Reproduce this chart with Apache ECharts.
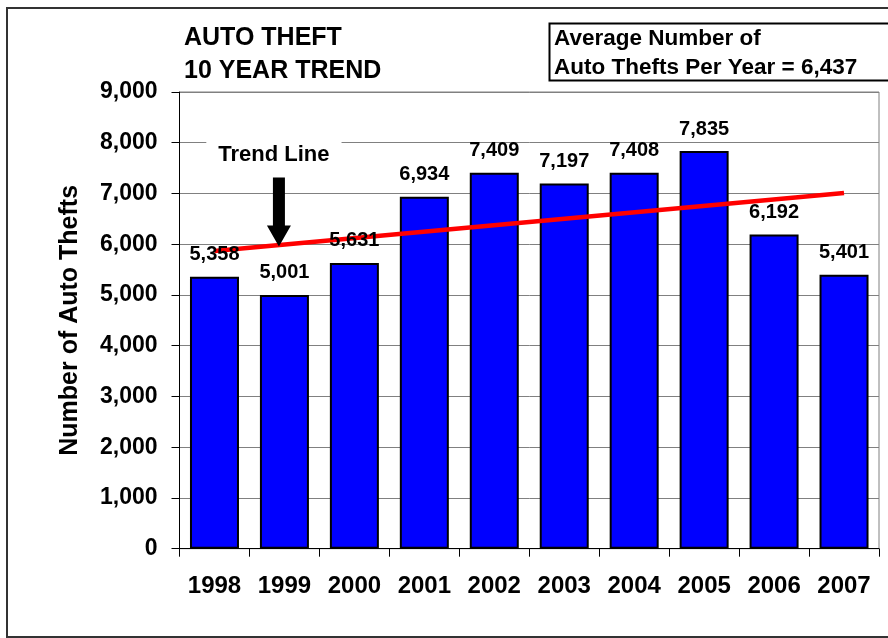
<!DOCTYPE html>
<html>
<head>
<meta charset="utf-8">
<script src="https://cdn.jsdelivr.net/npm/echarts@6/dist/echarts.min.js"></script>
<style>
html,body{margin:0;padding:0;background:#fff;}
#chart{width:888px;height:638px;}
</style>
</head>
<body>
<div id="chart"></div>
<script>
// Data
var years = ['1998','1999','2000','2001','2002','2003','2004','2005','2006','2007'];
var thefts = [5358, 5001, 5631, 6934, 7409, 7197, 7408, 7835, 6192, 5401];
// trend line endpoints (first and last year)
var trend = [5865, '-', '-', '-', '-', '-', '-', '-', '-', 7008];
var yTicks = [0, 1000, 2000, 3000, 4000, 5000, 6000, 7000, 8000, 9000];
var titleLines = ['AUTO THEFT', '10 YEAR TREND'];
var boxLines = ['Average Number of', 'Auto Thefts Per Year = 6,437'];
var trendLabel = 'Trend Line';

var FONT = "'Liberation Sans', Arial, Helvetica, sans-serif";
var chart = echarts.init(document.getElementById('chart'), null, {renderer: 'canvas'});

function fmt(v){ return String(v).replace(/\B(?=(\d{3})+(?!\d))/g, ','); }

var option = {
  animation: false,
  backgroundColor: '#fff',
  textStyle: {fontFamily: FONT},
  title: {
    text: titleLines.join('\n'),
    left: 179, top: 17,
    textStyle: {fontFamily: FONT, fontWeight: 'bold', fontSize: 25, lineHeight: 33, color: '#000'}
  },
  grid: {
    left: 179.5, right: 9, top: 92, bottom: 89.3,
    show: true, borderColor: '#808080', borderWidth: 1, backgroundColor: '#fff'
  },
  xAxis: {
    type: 'category',
    data: years,
    axisLine: {lineStyle: {color: '#000', width: 1}},
    axisTick: {show: true, length: 8, alignWithLabel: false, lineStyle: {color: '#000'}},
    axisLabel: {interval: 0, margin: 26, color: '#000', fontFamily: FONT, fontWeight: 'bold', fontSize: 24}
  },
  yAxis: {
    type: 'value',
    min: yTicks[0], max: yTicks[yTicks.length - 1], interval: 1000,
    name: 'Number of Auto Thefts',
    nameLocation: 'middle', nameRotate: 90, nameGap: 97,
    nameTextStyle: {fontFamily: FONT, fontWeight: 'bold', fontSize: 25, color: '#000'},
    axisLine: {show: true, lineStyle: {color: '#000', width: 1}},
    axisTick: {show: true, length: 8, inside: false, lineStyle: {color: '#000'}},
    axisLabel: {margin: 22, color: '#000', fontFamily: FONT, fontWeight: 'bold', fontSize: 23,
      formatter: function(v){ return fmt(v); }},
    splitLine: {show: true, lineStyle: {color: '#808080', width: 1}}
  },
  series: [
    {
      name: 'Auto Thefts', type: 'bar', data: thefts, barWidth: 49, z: 2,
      itemStyle: {color: '#0000FF', borderColor: '#000', borderWidth: 2}
    },
    {
      name: 'Trend', type: 'line', data: trend, connectNulls: true, z: 4,
      symbol: 'none', lineStyle: {color: '#FF0000', width: 4.5}, silent: true
    },
    {
      name: 'Labels', type: 'bar', data: thefts, barWidth: 49, barGap: '-100%', z: 6, silent: true,
      itemStyle: {color: 'rgba(0,0,0,0)', borderWidth: 0},
      label: {show: true, position: 'top', distance: 12, color: '#000', fontFamily: FONT,
        fontWeight: 'bold', fontSize: 20, formatter: function(p){ return fmt(p.value); }}
    }
  ]
};
chart.setOption(option);

// annotations anchored to the data coordinate system
var tip = chart.convertToPixel({gridIndex: 0}, [1, 5957]);
var tx = tip[0] - 5.5, ty = tip[1];
chart.setOption({
  graphic: [
    {
      type: 'rect', silent: true, z: 100,
      shape: {x: 7, y: 8, width: 900, height: 629},
      style: {fill: 'none', stroke: '#333', lineWidth: 2}
    },
    {
      type: 'rect', silent: true, z: 100,
      shape: {x: 549.5, y: 23.5, width: 360, height: 57},
      style: {fill: '#fff', stroke: '#000', lineWidth: 2}
    },
    {
      type: 'text', silent: true, z: 101, left: 554, top: 24,
      style: {text: boxLines.join('\n'), fill: '#000', font: 'bold 22.5px ' + FONT, lineHeight: 29}
    },
    {
      type: 'text', silent: true, z: 50,
      x: tx - 5, y: 155,
      style: {text: trendLabel, fill: '#000', font: 'bold 22px ' + FONT,
        align: 'center', verticalAlign: 'middle', backgroundColor: '#fff', padding: [6, 12]}
    },
    {
      type: 'polygon', silent: true, z: 50,
      shape: {points: [
        [tx - 6, ty - 69], [tx + 6, ty - 69], [tx + 6, ty - 21], [tx + 12, ty - 21],
        [tx, ty], [tx - 12, ty - 21], [tx - 6, ty - 21]
      ]},
      style: {fill: '#000'}
    }
  ]
});
</script>
</body>
</html>
